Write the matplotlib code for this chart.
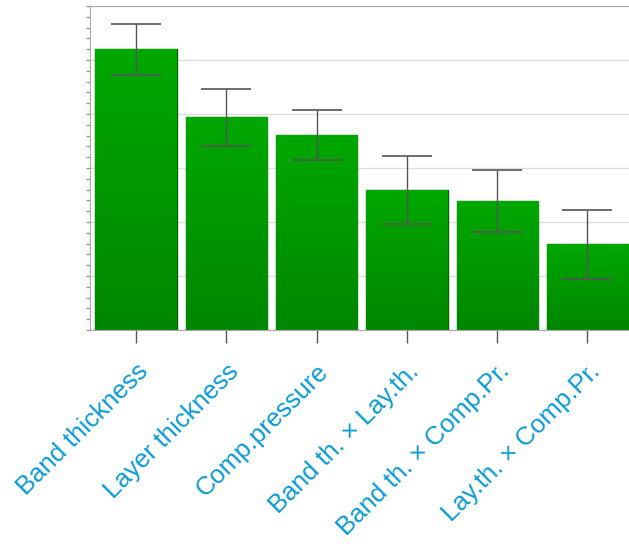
import numpy as np
import matplotlib
matplotlib.use("Agg")
import matplotlib.pyplot as plt
from matplotlib.ticker import MultipleLocator, NullFormatter
from matplotlib.colors import LinearSegmentedColormap

plt.rcParams['font.family'] = ['Liberation Sans', 'DejaVu Sans']

factors = ["Band thickness", "Layer thickness", "Comp.pressure",
           "Band th. \u00d7 Lay.th.", "Band th. \u00d7 Comp.Pr.", "Lay.th. \u00d7 Comp.Pr."]
effects = [5.20, 3.94, 3.61, 2.59, 2.39, 1.59]
errors = [0.47, 0.53, 0.46, 0.63, 0.57, 0.64]

fig = plt.figure(figsize=(6.29, 5.47), dpi=100)
ax = fig.add_axes([90 / 629, 1 - 330 / 547, 1 - 90 / 629, 324 / 547])

x = np.arange(len(factors))
width = 0.9
bars = ax.bar(x, effects, width=width, color="#009a00", edgecolor="#006400",
              linewidth=1.0, zorder=2)

# vertical shading inside every bar
green = LinearSegmentedColormap.from_list("bar_green", ["#008600", "#00a800"])
grad = np.linspace(0, 1, 256).reshape(-1, 1)
for rect in bars:
    x0, w, h = rect.get_x(), rect.get_width(), rect.get_height()
    im = ax.imshow(grad, cmap=green, origin="lower", aspect="auto",
                   extent=(x0, x0 + w, 0, h), zorder=2.5)
    im.set_clip_path(rect)

ax.errorbar(x, effects, yerr=errors, fmt="none", ecolor="#555555",
            elinewidth=1.0, capsize=18, capthick=1.2, zorder=3)

ax.set_xlim(-0.51, 5.46)
ax.set_ylim(0, 6)
ax.yaxis.set_major_locator(MultipleLocator(1))
ax.yaxis.set_minor_locator(MultipleLocator(0.2))
ax.yaxis.set_major_formatter(NullFormatter())
ax.tick_params(axis="y", which="both", length=3, color="#9a90a8", width=1)
ax.grid(axis="y", color="#dddddd", linewidth=1, zorder=0)
ax.set_axisbelow(True)

ax.set_xticks(x)
ax.set_xticklabels(factors, rotation=45, ha="right", rotation_mode="anchor",
                   color="#0a9ad8", fontsize=18.5)
ax.tick_params(axis="x", length=9, color="#555555", width=1, pad=12)

for side in ("left", "top", "bottom"):
    ax.spines[side].set_color("#aaaaaa")
ax.spines["right"].set_visible(False)

fig.savefig("out.png", dpi=100)
